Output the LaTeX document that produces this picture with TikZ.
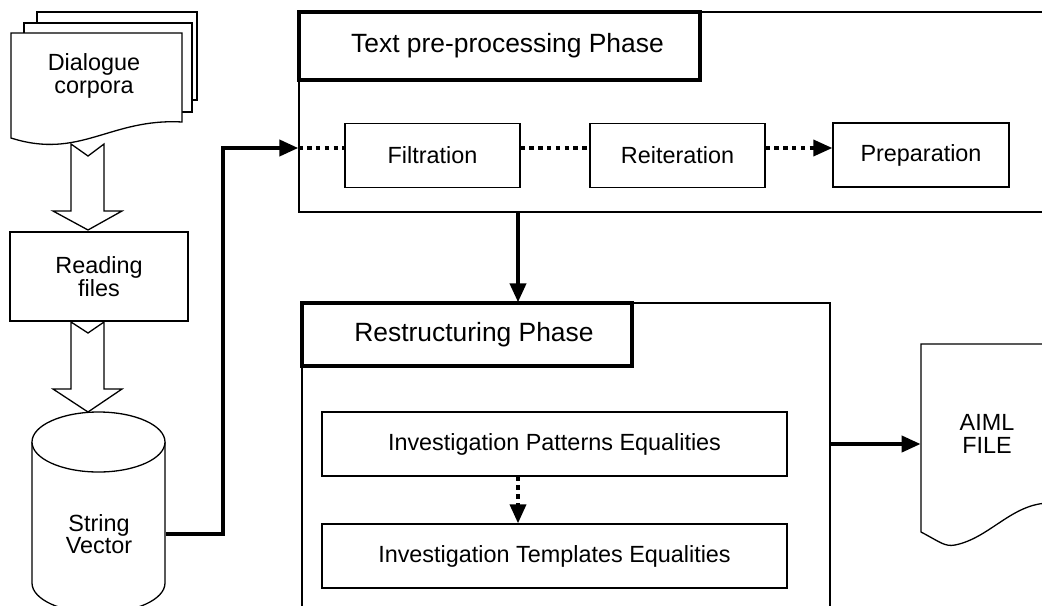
\documentclass[tikz,border=0pt]{standalone}
\usepackage{fontspec}
\setmainfont{Liberation Sans}
\usepackage{tikz}
\usetikzlibrary{arrows.meta}
\tikzstyle{Label}=[align=center,inner sep=0pt,font=\fontsize{11.7}{11.3}\selectfont]
\tikzstyle{StepBox}=[rectangle,draw,fill=white,line width=.65pt,inner sep=0pt,
minimum height=32pt,align=center,font=\fontsize{11.7}{11.3}\selectfont]
\tikzstyle{PhaseBox}=[rectangle,draw,fill=white,line width=1.6pt,inner sep=0pt,
font=\fontsize{13.2}{15}\selectfont]
\tikzstyle{OuterBox}=[rectangle,draw,line width=.7pt,inner sep=0pt]
\tikzstyle{Doc}=[draw,fill=white,line width=.65pt]
\tikzstyle{Tip}=[-{Triangle[length=9.5pt,width=8pt]}]
\tikzstyle{Conn}=[Tip,line width=2pt]
\tikzstyle{DotConn}=[line width=1.8pt,dash pattern=on 2.2pt off 2.2pt]

\begin{document}
\begin{tikzpicture}[x=.5pt,y=-.5pt]
        \clip(0,0)rectangle(1042,605);
        % input side
        \draw[Doc](71,144)--(88,156)--(104,144)--(104,211)--(122,211)--(88,230)--(53,211)--(71,211)--cycle;
        \draw[Doc](37,12)--(197,12)--(197,100)--(37,100)--cycle;
        \draw[Doc](24,23)--(192,23)--(192,112)--(24,112)--cycle;
        \draw[Doc](11,33)--(182,33)--(182,122)..controls(110,118)and(80,160)..(11,138)--cycle;
        \node[Label](dc)at(94,76){Dialogue\\corpora};
        \node[StepBox,minimum width=89pt,minimum height=44.5pt](rf)at(99,276.5){Reading\\files};
        \draw[Doc](71,322)--(88,333)--(104,322)--(104,389)--(122,389)--(88,412)--(53,389)--(71,389)--cycle;
        \draw[Doc](32,442)--(32,583)arc[start angle=180,end angle=360,x radius=33.25pt,y radius=15pt]--(165,442);
        \draw[Doc](98.5,442)ellipse[x radius=33.25pt,y radius=15pt];
        \node[Label,minimum width=66.5pt](sv)at(99,534){String\\Vector};
        % text pre-processing phase
        \node[OuterBox,minimum width=380.5pt,minimum height=100pt](tp)at(679.5,112){};
        \node[PhaseBox,minimum width=200.5pt,minimum height=34pt](ha)at(499.5,46){\hspace{8pt}Text pre-processing Phase};
        \node[StepBox,minimum width=87.5pt](fi)at(432.5,155.5){Filtration};
        \node[StepBox,minimum width=87.5pt](re)at(677.5,155.5){Reiteration};
        \node[StepBox,minimum width=88pt](pr)at(921,155){Preparation};
        % restructuring phase
        \node[OuterBox,minimum width=264pt,minimum height=170pt](rs)at(566,473){};
        \node[PhaseBox,minimum width=165pt,minimum height=31.5pt](hb)at(467,334.5){\hspace{7pt}Restructuring Phase};
        \node[StepBox,minimum width=232.5pt](ip)at(554.5,444){Investigation Patterns Equalities};
        \node[StepBox,minimum width=232.5pt](it)at(554.5,556){Investigation Templates Equalities};
        % output file
        \draw[Doc](921,344)--(921,532)..controls(940,542)and(945,547)..(955,545)
            ..controls(990,538)and(1012,503)..(1050,503)--(1060,503)--(1060,344)--cycle;
        \node[Label,minimum width=66pt](af)at(987,434){AIML\\FILE};
        % connectors
        \coordinate(k)at(223,148);
        \coordinate(m)at(518,0);
        \draw[Conn](sv.east)-|(k)--(tp.west|-k);
        \draw[DotConn](tp.west|-k)--(fi.west|-k);
        \draw[DotConn](fi.east|-k)--(re.west|-k);
        \draw[DotConn,Tip](re.east|-k)--(pr.west|-k);
        \draw[Conn](tp.south-|m)--(rs.north-|m);
        \draw[DotConn,Tip](ip.south-|m)--(it.north-|m);
        \draw[Conn](rs.east|-ip)--(af.west|-ip);
    \end{tikzpicture}
\end{document}
